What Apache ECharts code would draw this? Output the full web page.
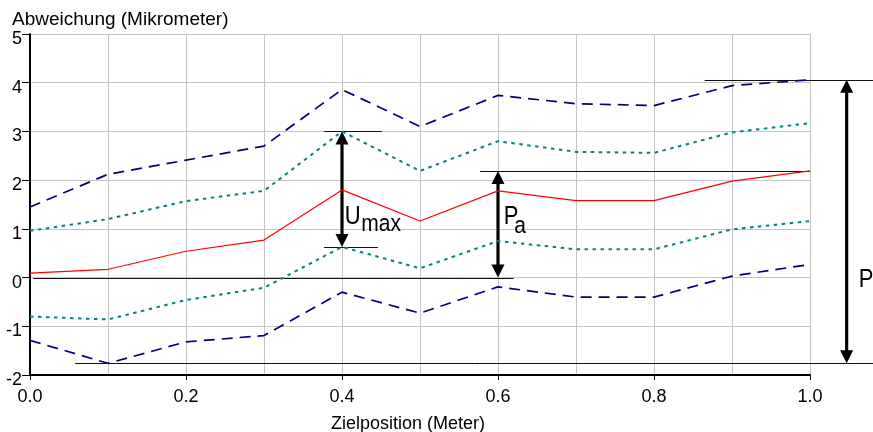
<!DOCTYPE html>
<html>
<head>
<meta charset="utf-8">
<title>Abweichung</title>
<script src="https://cdn.jsdelivr.net/npm/echarts@6/dist/echarts.min.js"></script>
<style>
  html, body { margin: 0; padding: 0; background: #fff; }
  #chart { width: 873px; height: 432px; }
</style>
</head>
<body>
<div id="chart"></div>
<script>
// Zielpositionen (Meter) und Abweichungen (Mikrometer)
var xPos = [0, 0.1, 0.2, 0.3, 0.4, 0.5, 0.6, 0.7, 0.8, 0.9, 1.0];
var meanDev = [0.09, 0.17, 0.54, 0.77, 1.80, 1.16, 1.78, 1.58, 1.58, 1.98, 2.19];
var upperU = [0.96, 1.20, 1.57, 1.78, 3.00, 2.19, 2.80, 2.58, 2.56, 2.98, 3.17];
var lowerU = [-0.80, -0.86, -0.46, -0.21, 0.63, 0.19, 0.75, 0.58, 0.58, 0.99, 1.16];
var upperP = [1.45, 2.12, 2.41, 2.70, 3.86, 3.10, 3.74, 3.57, 3.53, 3.94, 4.06];
var lowerP = [-1.29, -1.76, -1.32, -1.19, -0.30, -0.73, -0.19, -0.40, -0.40, 0.03, 0.27];

var xTickLabels = ['0.0', '0.2', '0.4', '0.6', '0.8', '1.0'];
var yTickLabels = ['-2', '-1', '0', '1', '2', '3', '4', '5'];

var noteMain = ['U', 'P', 'P'];
var noteSub = ['max', 'a', ''];

var FONT = '"Liberation Sans", Arial, Helvetica, sans-serif';

function pairs(ys) {
  return xPos.map(function (x, i) { return [x, ys[i]]; });
}

// Kennwerte aus den Daten
var maxMean = Math.max.apply(null, meanDev);
var maxUpper = Math.max.apply(null, upperP);
var minLower = Math.min.apply(null, lowerP);
var uIdx = 0;
upperU.forEach(function (v, i) {
  if (v - meanDev[i] > upperU[uIdx] - meanDev[uIdx]) uIdx = i;
});
var paIdx = 6;
var pX = 1.047; // P-Pfeil rechts ausserhalb

// Hilfslinien: [x von, x bis, y]
var guides = [
  [0.004, 0.62, 0],
  [0.377, 0.451, upperU[uIdx]],
  [0.377, 0.446, lowerU[uIdx]],
  [0.577, 1.0, maxMean],
  [0.865, 1.09, maxUpper],
  [0.058, 1.09, minLower]
];
// Pfeile: [x, y oben, y unten]
var arrows = [
  [xPos[uIdx], upperU[uIdx], lowerU[uIdx]],
  [xPos[paIdx], maxMean, 0],
  [pX, maxUpper, minLower]
];
// Beschriftungen (linke Mitte des Hauptbuchstabens)
var noteAt = [[0.4055, 1.25], [0.6094, 1.25], [1.0645, -0.06]];

var chart = echarts.init(document.getElementById('chart'));

function renderGuide(params, api) {
  var a = api.coord([api.value(0), api.value(2)]);
  var b = api.coord([api.value(1), api.value(2)]);
  var y = Math.round(a[1]) + 0.5;
  return {
    type: 'line',
    shape: { x1: a[0], y1: y, x2: b[0], y2: y },
    style: { stroke: '#111', lineWidth: 1 }
  };
}

function renderArrow(params, api) {
  var t = api.coord([api.value(0), api.value(1)]);
  var b = api.coord([api.value(0), api.value(2)]);
  var hw = 6.5, hl = 13;
  return {
    type: 'group',
    children: [
      { type: 'line', shape: { x1: t[0], y1: t[1] + hl - 2, x2: b[0], y2: b[1] - hl + 2 },
        style: { stroke: '#000', lineWidth: 3.2 } },
      { type: 'polygon', shape: { points: [[t[0], t[1]], [t[0] - hw, t[1] + hl], [t[0] + hw, t[1] + hl]] },
        style: { fill: '#000' } },
      { type: 'polygon', shape: { points: [[b[0], b[1]], [b[0] - hw, b[1] - hl], [b[0] + hw, b[1] - hl]] },
        style: { fill: '#000' } }
    ]
  };
}

function renderNote(params, api) {
  var p = api.coord([api.value(0), api.value(1)]);
  var i = params.dataIndex;
  var subDx = i === 0 ? 16.5 : 10.5;
  var subDy = i === 0 ? 7.7 : 10;
  return {
    type: 'group',
    children: [
      { type: 'text', x: p[0] - 1.5, y: p[1], scaleY: 1.15,
        style: { text: noteMain[i], font: '22px ' + FONT, fill: '#000', align: 'left', verticalAlign: 'middle' } },
      { type: 'text', x: p[0] - 1.5 + subDx, y: p[1] + subDy, scaleY: 1.15,
        style: { text: noteSub[i], font: '21px ' + FONT, fill: '#000', align: 'left', verticalAlign: 'middle' } }
    ]
  };
}

function bandLine(name, ys, color, width, dash) {
  return {
    name: name,
    type: 'line',
    data: pairs(ys),
    showSymbol: false,
    symbol: 'none',
    silent: true,
    lineStyle: { color: color, width: width, type: dash }
  };
}

chart.setOption({
  animation: false,
  backgroundColor: '#fff',
  textStyle: { fontFamily: FONT },
  title: {
    text: 'Abweichung (Mikrometer)',
    left: 7,
    top: 5,
    textStyle: { fontSize: 19, fontWeight: 'normal', color: '#000', fontFamily: FONT }
  },
  grid: { left: 30, right: 63, top: 34, bottom: 57, containLabel: false, outerBoundsMode: 'none' },
  xAxis: {
    type: 'value',
    min: 0,
    max: 1,
    interval: 0.2,
    name: 'Zielposition (Meter)',
    nameLocation: 'middle',
    nameGap: 40,
    nameTextStyle: { fontSize: 18, color: '#000', fontFamily: FONT, padding: [0, 24, 0, 0] },
    axisLine: { show: true, onZero: false, lineStyle: { color: '#000', width: 2 } },
    axisTick: { show: true, length: 5, lineStyle: { color: '#000', width: 1 } },
    axisLabel: {
      fontSize: 18, color: '#000', margin: 15, lineHeight: 14,
      formatter: function (v) { return xTickLabels[Math.round(v / 0.2)]; }
    },
    splitLine: { show: true, lineStyle: { color: '#c4c4c4', width: 1 } },
    minorTick: { show: false, splitNumber: 2 },
    minorSplitLine: { show: true, lineStyle: { color: '#c4c4c4', width: 1 } }
  },
  yAxis: {
    type: 'value',
    min: -2,
    max: 5,
    interval: 1,
    axisLine: { show: true, onZero: false, lineStyle: { color: '#000', width: 2 } },
    axisTick: { show: true, length: 8, lineStyle: { color: '#000', width: 1 } },
    axisLabel: {
      fontSize: 18, color: '#000', margin: 8, verticalAlign: 'top', lineHeight: 10,
      formatter: function (v) { return yTickLabels[Math.round(v + 2)]; }
    },
    splitLine: { show: true, lineStyle: { color: '#c4c4c4', width: 1 } }
  },
  series: [
    bandLine('P oben', upperP, '#000080', 1.7, [11, 7]),
    bandLine('U oben', upperU, '#008080', 2, [3.5, 4.5]),
    bandLine('Mittelwert', meanDev, '#ff0000', 1.2, 'solid'),
    bandLine('U unten', lowerU, '#008080', 2, [3.5, 4.5]),
    bandLine('P unten', lowerP, '#000080', 1.7, [11, 7]),
    {
      type: 'custom', name: 'Hilfslinien', silent: true, clip: false,
      renderItem: renderGuide, encode: { x: [0, 1], y: 2 }, data: guides
    },
    {
      type: 'custom', name: 'Pfeile', silent: true, clip: false,
      renderItem: renderArrow, encode: { x: 0, y: [1, 2] }, data: arrows
    },
    {
      type: 'custom', name: 'Beschriftung', silent: true, clip: false,
      renderItem: renderNote, encode: { x: 0, y: 1 }, data: noteAt
    }
  ]
});
</script>
</body>
</html>
